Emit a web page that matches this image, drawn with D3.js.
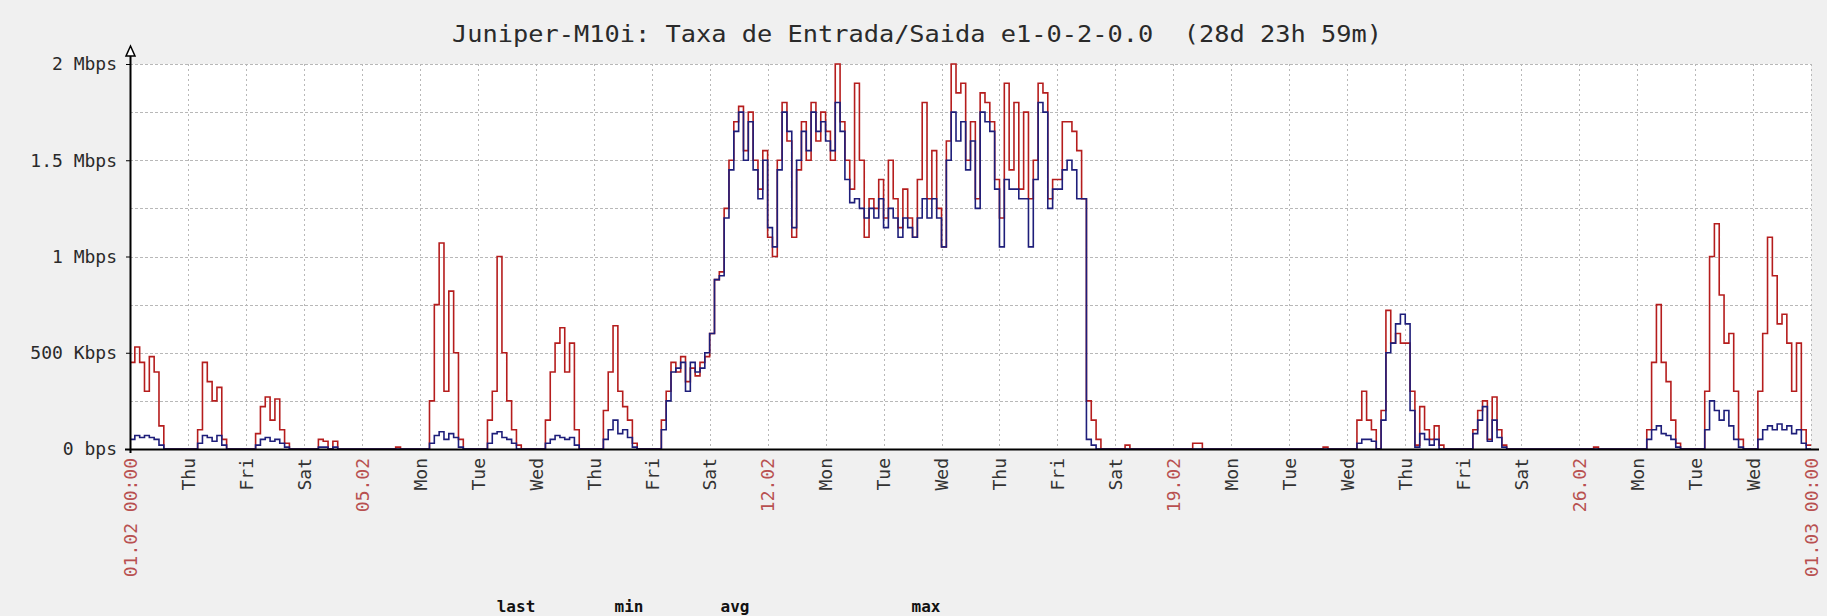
<!DOCTYPE html>
<html>
<head>
<meta charset="utf-8">
<script src="https://cdn.jsdelivr.net/npm/d3@7"></script>
<style>
  html, body { margin: 0; padding: 0; background: #f0f0f0; }
  svg { display: block; }
  text { font-family: "DejaVu Sans Mono", monospace; white-space: pre; }
</style>
</head>
<body>
<script>
// ---------- DATA (Mbps, 2-hour steps, 12 per day, starting 01.02.2012 00:00) ----------
const titleText = "Juniper-M10i: Taxa de Entrada/Saida e1-0-2-0.0  (28d 23h 59m)";
const yTickValues = [0, 500000, 1000000, 1500000, 2000000];
const yTickLabels = ["0 bps", "500 Kbps", "1 Mbps", "1.5 Mbps", "2 Mbps"];
const xTickLabels = ["01.02 00:00","Thu","Fri","Sat","05.02","Mon","Tue","Wed","Thu","Fri","Sat",
  "12.02","Mon","Tue","Wed","Thu","Fri","Sat","19.02","Mon","Tue","Wed","Thu","Fri","Sat",
  "26.02","Mon","Tue","Wed","01.03 00:00"];
const legendLabels = ["last", "min", "avg", "max"];

const inbound = [
  0.45,0.53,0.45,0.30,0.48,0.40,0.12,0,0,0,0,0,
  0,0,0.10,0.45,0.35,0.25,0.32,0.05,0,0,0,0,
  0,0,0.08,0.22,0.27,0.15,0.26,0.10,0.03,0,0,0,
  0,0,0,0.05,0.04,0,0.04,0,0,0,0,0,
  0,0,0,0,0,0,0,0.01,0,0,0,0,
  0,0,0.25,0.75,1.07,0.30,0.82,0.50,0.05,0,0,0,
  0,0,0.15,0.30,1.00,0.50,0.25,0.10,0.02,0,0,0,
  0,0,0.15,0.40,0.55,0.63,0.40,0.55,0.10,0,0,0,
  0,0,0.20,0.40,0.64,0.30,0.22,0.15,0.03,0,0,0,
  0,0,0.15,0.30,0.45,0.40,0.48,0.35,0.42,0.38,0.45,0.48,
  0.60,0.88,0.92,1.25,1.50,1.70,1.78,1.55,1.75,1.50,1.35,1.55,
  1.10,1.00,1.50,1.80,1.60,1.10,1.45,1.70,1.50,1.80,1.60,1.75,
  1.65,1.50,2.00,1.70,1.50,1.35,1.90,1.50,1.10,1.30,1.25,1.40,
  1.20,1.50,1.30,1.15,1.35,1.20,1.10,1.40,1.80,1.30,1.55,1.25,
  1.05,1.60,2.00,1.85,1.90,1.50,1.70,1.30,1.85,1.80,1.70,1.40,
  1.20,1.90,1.45,1.80,1.35,1.75,1.30,1.50,1.90,1.85,1.30,1.40,
  1.40,1.70,1.70,1.65,1.55,1.30,0.25,0.15,0.05,0,0,0,
  0,0,0.02,0,0,0,0,0,0,0,0,0,
  0,0,0,0,0.03,0.03,0,0,0,0,0,0,
  0,0,0,0,0,0,0,0,0,0,0,0,
  0,0,0,0,0,0,0,0.01,0,0,0,0,
  0,0,0.15,0.30,0.15,0.10,0,0.20,0.72,0.55,0.60,0.55,
  0.55,0.30,0.02,0.22,0.10,0.05,0.12,0.02,0,0,0,0,
  0,0,0.10,0.20,0.25,0.05,0.27,0.10,0.02,0,0,0,
  0,0,0,0,0,0,0,0,0,0,0,0,
  0,0,0,0.01,0,0,0,0,0,0,0,0,
  0,0,0.10,0.45,0.75,0.45,0.35,0.15,0.03,0,0,0,
  0,0,0.30,1.00,1.17,0.80,0.55,0.60,0.30,0.05,0,0,
  0,0.30,0.60,1.10,0.90,0.65,0.70,0.55,0.30,0.55,0.10,0.02
];
const outbound = [
  0.05,0.07,0.06,0.07,0.06,0.05,0.02,0,0,0,0,0,
  0,0,0.03,0.07,0.06,0.04,0.07,0.02,0,0,0,0,
  0,0,0.02,0.05,0.06,0.04,0.05,0.03,0.01,0,0,0,
  0,0,0,0.01,0.01,0,0.01,0,0,0,0,0,
  0,0,0,0,0,0,0,0,0,0,0,0,
  0,0,0.03,0.07,0.09,0.05,0.08,0.06,0.01,0,0,0,
  0,0,0.03,0.08,0.09,0.06,0.05,0.03,0,0,0,0,
  0,0,0.03,0.05,0.07,0.06,0.05,0.06,0.02,0,0,0,
  0,0,0.05,0.10,0.15,0.08,0.10,0.06,0.01,0,0,0,
  0,0,0.10,0.25,0.40,0.42,0.45,0.30,0.45,0.40,0.42,0.50,
  0.60,0.88,0.90,1.20,1.45,1.65,1.75,1.50,1.70,1.45,1.30,1.50,
  1.15,1.05,1.45,1.75,1.65,1.15,1.50,1.65,1.55,1.75,1.65,1.70,
  1.60,1.55,1.80,1.65,1.40,1.28,1.30,1.25,1.20,1.25,1.20,1.30,
  1.15,1.25,1.20,1.10,1.20,1.15,1.10,1.20,1.30,1.20,1.30,1.20,
  1.05,1.50,1.75,1.60,1.70,1.45,1.60,1.25,1.75,1.70,1.65,1.35,
  1.05,1.40,1.35,1.35,1.30,1.30,1.05,1.40,1.80,1.75,1.25,1.35,
  1.35,1.45,1.50,1.45,1.30,1.30,0.05,0.02,0,0,0,0,
  0,0,0,0,0,0,0,0,0,0,0,0,
  0,0,0,0,0,0,0,0,0,0,0,0,
  0,0,0,0,0,0,0,0,0,0,0,0,
  0,0,0,0,0,0,0,0,0,0,0,0,
  0,0,0.03,0.05,0.05,0.04,0,0.15,0.50,0.55,0.65,0.70,
  0.65,0.20,0.01,0.08,0.05,0.02,0.05,0,0,0,0,0,
  0,0,0.08,0.15,0.22,0.04,0.15,0.06,0.01,0,0,0,
  0,0,0,0,0,0,0,0,0,0,0,0,
  0,0,0,0,0,0,0,0,0,0,0,0,
  0,0,0.05,0.10,0.12,0.08,0.07,0.05,0.01,0,0,0,
  0,0,0.10,0.25,0.20,0.15,0.20,0.12,0.05,0.01,0,0,
  0,0.05,0.10,0.12,0.10,0.13,0.10,0.12,0.08,0.10,0.03,0
];

// ---------- LAYOUT ----------
const W = 1827, H = 616;
const pLeft = 130, pRight = 1811, pTop = 64, pBottom = 449;
const t0 = new Date(Date.UTC(2012, 1, 1, 0, 0));
const t1 = new Date(Date.UTC(2012, 2, 1, 0, 0));
const stepMs = 2 * 3600 * 1000;

const svg = d3.select("body").append("svg").attr("width", W).attr("height", H);

svg.append("rect").attr("x", 0).attr("y", 0).attr("width", W).attr("height", H).attr("fill", "#f0f0f0");
svg.append("rect").attr("x", pLeft).attr("y", pTop).attr("width", pRight - pLeft).attr("height", pBottom - pTop).attr("fill", "#ffffff");

const x = d3.scaleUtc().domain([t0, t1]).range([pLeft, pRight]);
const y = d3.scaleLinear().domain([0, 2000000]).range([pBottom, pTop]);

// Title
svg.append("text")
  .attr("x", 917).attr("y", 42)
  .attr("text-anchor", "middle")
  .attr("font-size", 23)
  .attr("fill", "#2a2a2a")
  .attr("xml:space", "preserve")
  .attr("textLength", 930).attr("lengthAdjust", "spacingAndGlyphs")
  .text(titleText);

// Grid lines
const gridColor = "#b8b8b8";
const hGrid = d3.range(250000, 2000001, 250000);
svg.append("g").selectAll("line").data(hGrid).join("line")
  .attr("x1", pLeft).attr("x2", pRight)
  .attr("y1", d => Math.round(y(d)) + 0.5).attr("y2", d => Math.round(y(d)) + 0.5)
  .attr("stroke", gridColor).attr("stroke-width", 1).attr("stroke-dasharray", "3,2");

const days = d3.utcDay.range(t0, d3.utcDay.offset(t1, 1));
svg.append("g").selectAll("line").data(days.slice(1)).join("line")
  .attr("x1", d => Math.round(x(d)) + 0.5).attr("x2", d => Math.round(x(d)) + 0.5)
  .attr("y1", pTop).attr("y2", pBottom)
  .attr("stroke", gridColor).attr("stroke-width", 1).attr("stroke-dasharray", "2,3");

// Series
function series(vals) {
  const pts = vals.map((v, i) => ({ t: new Date(t0.getTime() + i * stepMs), v: v * 1e6 }));
  pts.push({ t: t1, v: vals[vals.length - 1] * 1e6 });
  return pts;
}
const line = d3.line().x(d => x(d.t)).y(d => y(d.v)).curve(d3.curveStepAfter);

svg.append("path").datum(series(inbound))
  .attr("d", line).attr("fill", "none").attr("stroke", "#b51d1d").attr("stroke-width", 1.6);
svg.append("path").datum(series(outbound))
  .attr("d", line).attr("fill", "none").attr("stroke", "#1e1e7a").attr("stroke-width", 1.6);

// Axes
const yAxis = d3.axisLeft(y).tickValues(yTickValues).tickFormat((d, i) => yTickLabels[i]).tickSize(4).tickPadding(9);
const gy = svg.append("g").attr("transform", `translate(${pLeft},0)`).call(yAxis);
gy.select(".domain").remove();
gy.selectAll(".tick line").attr("stroke", "#000");
gy.selectAll(".tick text").attr("font-size", 18).attr("fill", "#2a2a2a").attr("font-family", "DejaVu Sans Mono, monospace");

svg.append("line").attr("x1", pLeft + 0.5).attr("x2", pLeft + 0.5).attr("y1", pBottom + 4).attr("y2", 56)
  .attr("stroke", "#000").attr("stroke-width", 2);
svg.append("path").attr("d", `M${pLeft + 0.5},46 L${pLeft - 4},56 L${pLeft + 5},56 Z`)
  .attr("fill", "#fff").attr("stroke", "#000").attr("stroke-width", 1.5);
svg.append("line").attr("x1", pLeft - 5).attr("x2", 1819).attr("y1", pBottom + 0.5).attr("y2", pBottom + 0.5)
  .attr("stroke", "#000").attr("stroke-width", 2);

// X labels
const xAxis = d3.axisBottom(x).tickValues(days).tickFormat((d, i) => xTickLabels[i]).tickSize(0);
const gx = svg.append("g").attr("transform", `translate(0,${pBottom})`).call(xAxis);
gx.select(".domain").remove();
gx.selectAll(".tick text")
  .attr("font-size", 18)
  .attr("font-family", "DejaVu Sans Mono, monospace")
  .attr("text-anchor", "end")
  .attr("transform", "rotate(-90)")
  .attr("x", -9).attr("y", 0).attr("dy", "0.35em")
  .attr("fill", (d, i) => /\d/.test(xTickLabels[i]) ? "#b85050" : "#333");

// Legend header (at the bottom edge)
const legendX = [516, 629, 735, 926];
svg.append("g").selectAll("text").data(legendLabels).join("text")
  .attr("x", (d, i) => legendX[i]).attr("y", 612)
  .attr("text-anchor", "middle")
  .attr("font-size", 16).attr("font-weight", "bold").attr("fill", "#111")
  .text(d => d);
</script>
</body>
</html>
